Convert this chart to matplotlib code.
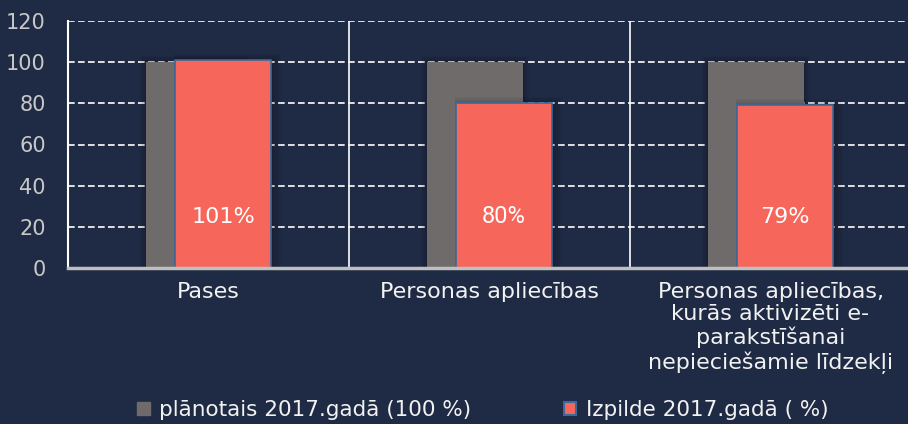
import matplotlib
matplotlib.use("Agg")
import matplotlib.pyplot as plt
from matplotlib.patches import Patch
import numpy as np

categories = ["Pases", "Personas apliecības",
              "Personas apliecības,\nkurās aktivizēti e-\nparakstīšanai\nnepieciešamie līdzekļi"]
planned = [100, 100, 100]
actual = [101, 80, 79]
actual_labels = ["101%", "80%", "79%"]
series_names = ["plānotais 2017.gadā (100 %)", "Izpilde 2017.gadā ( %)"]
yticks = [0, 20, 40, 60, 80, 100, 120]

BG = "#1F2A44"
GRAY = "#706B6B"
RED = "#F7665A"
EDGE = "#3A6A9C"

plt.rcParams['font.family'] = ['DejaVu Sans']
fig = plt.figure(figsize=(9.08, 4.24), dpi=100, facecolor=BG)
ax = fig.add_axes([68/908, 1-268/424, (911-68)/908, (268-21)/424])
ax.set_facecolor(BG)

x = np.arange(len(categories))
w = 0.342
off = 0.052

# soft shadow layers
for k in range(1, 6):
    dx = 0.004 * k
    dy = 0.6 * k
    ax.bar(x - off, np.array(planned) + dy, width=w + 2 * dx, color='black', alpha=0.035,
           linewidth=0, zorder=2.5)
    ax.bar(x + off + 0.003 * k, np.array(actual) + dy, width=w + 2 * dx, color='black',
           alpha=0.035, linewidth=0, zorder=3.5)

ax.bar(x - off, planned, width=w, color=GRAY, zorder=3, label=series_names[0])
ax.bar(x + off, actual, width=w, color=RED, edgecolor=EDGE, linewidth=1.2, zorder=4,
       label=series_names[1])
label_fonts = [['DejaVu Sans'], ['Roboto', 'DejaVu Sans'], ['DejaVu Sans']]
label_sizes = [16, 17, 16]
for xi, lab, fam, fs in zip(x, actual_labels, label_fonts, label_sizes):
    ax.text(xi + off, 25, lab, ha='center', va='center', color='white', fontsize=fs,
            family=fam, zorder=5)

ax.set_xlim(-0.5, 2.5)
ax.set_ylim(0, 120)
ax.set_yticks(yticks)
ax.yaxis.grid(True, color='white', linestyle=(0, (4, 2)), linewidth=1.2, zorder=1)
for b in [0.5, 1.5]:
    ax.axvline(b, color='white', linewidth=1.2, zorder=1)

ax.set_xticks(x)
ax.set_xticklabels(categories, color='#F2F2F2', fontsize=16, linespacing=1.15)
ax.tick_params(axis='x', length=0, pad=10)
ax.tick_params(axis='y', length=0, pad=16, labelcolor='#C8C8C8', labelsize=15)

for s in ['top', 'right']:
    ax.spines[s].set_visible(False)
ax.spines['left'].set_color('white')
ax.spines['left'].set_linewidth(1.5)
ax.spines['bottom'].set_color('#BFBFBF')
ax.spines['bottom'].set_linewidth(2.5)
ax.spines['bottom'].set_zorder(6)

handles = [Patch(facecolor=GRAY, edgecolor=GRAY), Patch(facecolor=RED, edgecolor=EDGE, linewidth=1.5)]
leg = fig.legend(handles, series_names, loc='center', bbox_to_anchor=(483/908, 1-410/424),
                 ncol=2, frameon=False, fontsize=15.5, labelcolor='#F2F2F2',
                 handlelength=0.57, handleheight=0.57, handletextpad=0.45, columnspacing=4.3,
                 borderpad=0)

fig.savefig("out.png", dpi=100, facecolor=BG)
